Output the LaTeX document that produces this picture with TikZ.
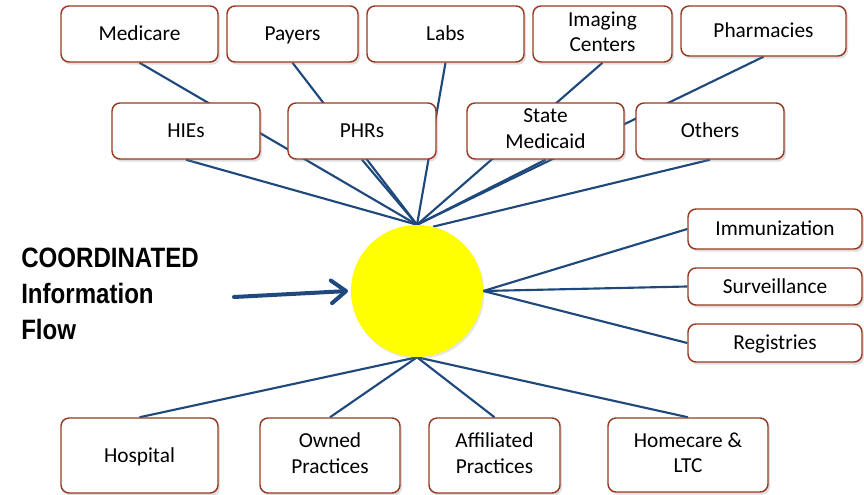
\documentclass[tikz,border=0pt]{standalone}
\usepackage{fontspec}
\setmainfont{Carlito}
\newfontfamily\flowfont[FakeStretch=0.86]{Liberation Sans}
\usetikzlibrary{shapes,arrows,arrows.meta,positioning,backgrounds,shadows}

\definecolor{boxedge}{RGB}{150,58,35}
\definecolor{linkblue}{RGB}{31,73,125}
\definecolor{hubyellow}{RGB}{255,255,0}

\newcommand\boxstrut{\rule[-3.6pt]{0pt}{17.6pt}}

\tikzset{
  box/.style 2 args={draw=boxedge, line width=1.1pt, fill=white, rounded corners=6pt,
    align=center, inner sep=0pt, text=black,
    minimum width=#1*0.75pt, minimum height=#2*0.75pt,
    font=\fontsize{16}{19}\selectfont,
    execute at begin node=\boxstrut, execute at end node=\boxstrut,
    drop shadow={opacity=0.25, shadow xshift=1.5pt, shadow yshift=-2pt}},
  link/.style={draw=linkblue, line width=1.6pt},
}

\begin{document}
\begin{tikzpicture}[x=0.75pt, y=-0.75pt]
  \useasboundingbox (0,0) rectangle (864,495);

  % hub
  \node[circle, fill=hubyellow, inner sep=0pt, minimum size=132*0.75pt,
    drop shadow={opacity=0.2, shadow xshift=1pt, shadow yshift=-1.5pt}] (hub) at (417,291) {};

  % top row
  \node[box={157}{56}] (medicare) at (139.5,34) {Medicare};
  \node[box={131}{56}] (payers) at (292.5,34) {Payers};
  \node[box={157}{56}] (labs) at (445.5,34) {Labs};
  \node[box={139}{56}] (imaging) at (602.5,34) {Imaging\\Centers};
  \node[box={165}{50}] (pharmacies) at (763.5,31) {Pharmacies};

  % second row
  \node[box={148}{56}] (hies) at (186,131) {HIEs};
  \node[box={148}{56}] (phrs) at (362,131) {PHRs};
  \node[box={157}{56}] (medicaid) at (545.5,131) {State\\Medicaid};
  \node[box={148}{56}] (others) at (710,131) {Others};

  % right column
  \node[box={174}{40}] (immunization) at (775,229) {Immunization};
  \node[box={174}{37}] (surveillance) at (775,286.5) {Surveillance};
  \node[box={174}{38}] (registries) at (775,343) {Registries};

  % bottom row
  \node[box={157}{75}] (hospital) at (139.5,455.5) {Hospital};
  \node[box={140}{75}] (owned) at (330,455.5) {Owned\\Practices};
  \node[box={131}{75}] (affiliated) at (494.5,455.5) {Affiliated\\Practices};
  \node[box={160}{74}] (homecare) at (688,455) {Homecare \&\\LTC};

  % links
  \begin{scope}[on background layer]
    \foreach \n in {medicare,payers,labs,imaging,pharmacies,hies,phrs,medicaid}
      \draw[link] (hub.north) -- (\n.south);
    \draw[link] (hub.76) -- (others.south);
    \foreach \n in {immunization,surveillance,registries}
      \draw[link] (hub.east) -- (\n.west);
    \foreach \n in {hospital,owned,affiliated,homecare}
      \draw[link] (hub.south) -- (\n.north);
  \end{scope}

  % incoming flow
  \node[anchor=west, align=left, inner sep=0pt,
    font=\flowfont\bfseries\fontsize{21}{27}\selectfont] (flowtext) at (21,294)
    {COORDINATED\\Information\\Flow};
  \coordinate (flowtail) at (234,297);
  \draw[-{Straight Barb[length=11pt, width=17pt, round]}, draw=linkblue,
    line width=3pt, line cap=round] (flowtail) -- ([xshift=-2pt]hub.west);
\end{tikzpicture}
\end{document}
